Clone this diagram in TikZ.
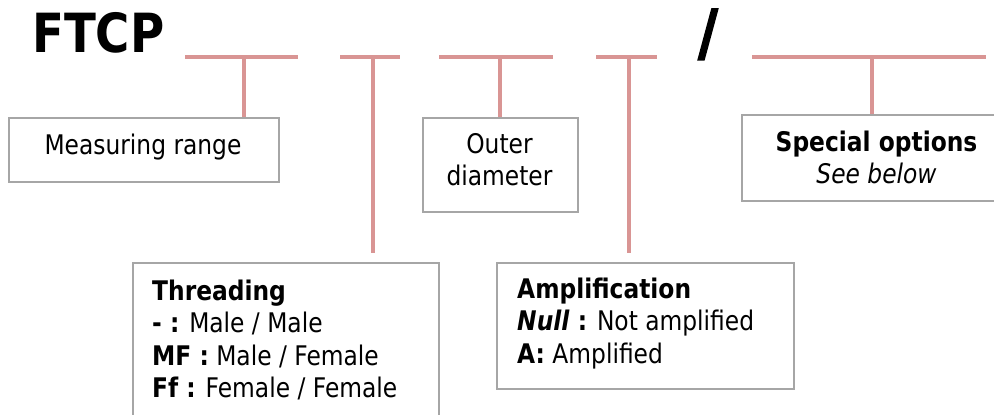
\documentclass[tikz,border=0pt]{standalone}
\usepackage{fontspec}
\setmainfont{DejaVu Sans}[FakeStretch=0.865]
\newfontfamily\slashfont{DejaVu Sans}[FakeStretch=0.865, FakeBold=2.5]
\usetikzlibrary{calc}
\definecolor{pink}{RGB}{217,149,148}
\definecolor{frameg}{RGB}{166,166,166}
\tikzset{
  pk/.style={draw=pink, line width=3.5pt},
  frame/.style={draw=frameg, line width=1.7pt, fill=none, inner sep=0pt, anchor=north west},
  txt/.style={inner sep=0pt, font=\fontsize{27}{32.4}\selectfont},
  big/.style={inner sep=0pt, font=\fontsize{54}{60}\selectfont\bfseries},
}
\newcommand{\topstrut}{\rule{0pt}{21pt}}
\begin{document}
\begin{tikzpicture}[x=1pt,y=-1pt]
\useasboundingbox (0,0) rectangle (994,415);
% title parts
\node[big, anchor=base west] (ftcp) at (32,52) {FTCP};
\node[inner sep=0pt, anchor=base, font=\fontsize{62}{66}\slashfont\bfseries] (slash) at (708,54) {/};
% frames
\node[frame, minimum width=270pt, minimum height=64pt] (mr) at (8,117) {};
\node[frame, minimum width=155pt, minimum height=94pt] (od) at (422,117) {};
\node[frame, minimum width=270pt, minimum height=86pt] (so) at (741,114) {};
\node[frame, minimum width=306pt, minimum height=168pt] (th) at (132,262) {};
\node[frame, minimum width=297pt, minimum height=126pt] (am) at (496,262) {};
% texts
\node[txt, anchor=base] (mrt) at (143,154) {Measuring range};
\node[txt, anchor=north, align=center] (odt) at (499.5,132) {\topstrut Outer\\diameter};
\node[txt, anchor=north, align=center] (sot) at (876.5,130) {\topstrut\textbf{Special options}\\\textit{See below}};
\node[txt, anchor=north west, align=left] (tht) at (152,279) {\topstrut\textbf{Threading}\\\textbf{- :} Male / Male\\\textbf{MF :} Male / Female\\\textbf{Ff :} Female / Female};
\node[txt, anchor=north west, align=left] (amt) at (517,277) {\topstrut\textbf{Amplification}\\\textbf{\textit{Null} :} Not amplified\\\textbf{A:} Amplified};
% underline segments
\coordinate (s1a) at (185,57); \coordinate (s1b) at (298,57); \coordinate (s1m) at (244,57);
\coordinate (s2a) at (340,57); \coordinate (s2b) at (400,57); \coordinate (s2m) at (373,57);
\coordinate (s3a) at (439,57); \coordinate (s3b) at (553,57); \coordinate (s3m) at (500,57);
\coordinate (s4a) at (596,57); \coordinate (s4b) at (657,57); \coordinate (s4m) at (629,57);
\coordinate (s5a) at (752,57); \coordinate (s5b) at (986,57); \coordinate (s5m) at (872,57);
\draw[pk] (s1a) -- (s1b);
\draw[pk] (s2a) -- (s2b);
\draw[pk] (s3a) -- (s3b);
\draw[pk] (s4a) -- (s4b);
\draw[pk] (s5a) -- (s5b);
% connectors
\draw[pk] (s1m) -- (s1m |- mr.north);
\draw[pk, shorten >=9pt] (s2m) -- (s2m |- th.north);
\draw[pk] (s3m) -- (s3m |- od.north);
\draw[pk, shorten >=9pt] (s4m) -- (s4m |- am.north);
\draw[pk] (s5m) -- (s5m |- so.north);
\end{tikzpicture}
\end{document}
